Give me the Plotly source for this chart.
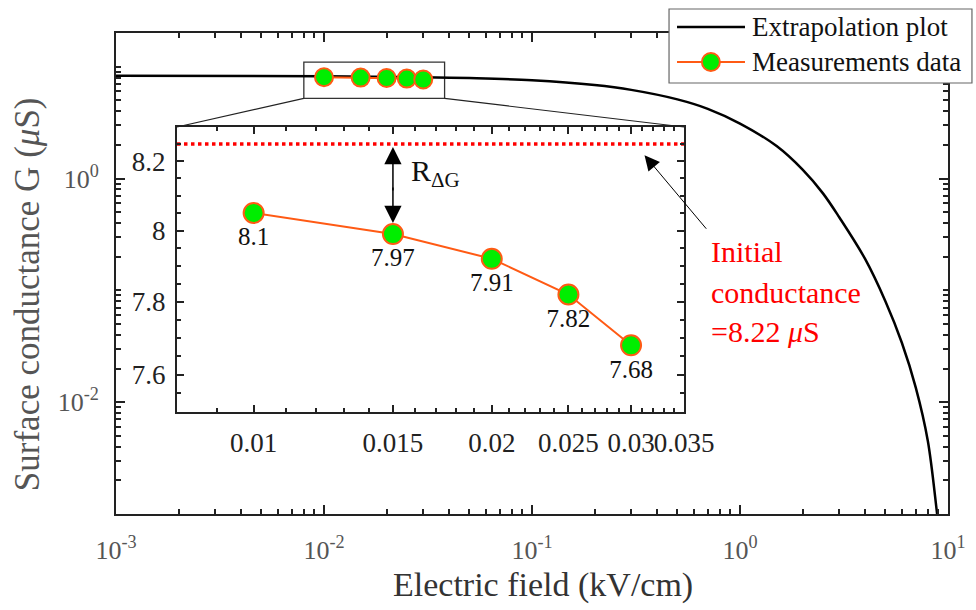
import math
import plotly.graph_objects as go

# ---------------- data ----------------
field_extrap = [0.001, 0.01, 0.03, 0.05, 0.1, 0.2, 0.3, 0.5, 0.7, 1.0, 1.5, 2.0,
                2.5, 3.0, 4.0, 5.0, 6.0, 7.0, 8.0, 9.0, 9.5]
G_extrap = [8.3, 8.22, 8.05, 7.9, 7.55, 6.85, 6.2, 5.1, 4.2, 3.1, 1.95, 1.2,
            0.74, 0.45, 0.19, 0.080, 0.034, 0.0135, 0.0045, 0.0008, 0.0004]

field_meas = [0.01, 0.015, 0.02, 0.025, 0.03]
G_meas = [8.05, 7.99, 7.92, 7.82, 7.68]
G_labels = ["8.1", "7.97", "7.91", "7.82", "7.68"]
G_initial = 8.25

main_xticks = [1e-3, 1e-2, 1e-1, 1e0, 1e1]
main_xticktext = ["10<sup>-3</sup>", "10<sup>-2</sup>", "10<sup>-1</sup>", "10<sup>0</sup>", "10<sup>1</sup>"]
main_yticks = [1e-2, 1e0]
main_yticktext = ["10<sup>-2</sup>", "10<sup>0</sup>"]
inset_xticks = [0.01, 0.015, 0.02, 0.025, 0.03, 0.035]
inset_xticktext = ["0.01", "0.015", "0.02", "0.025", "0.03", "0.035"]
inset_yticks = [7.6, 7.8, 8.0, 8.2]
inset_yticktext = ["7.6", "7.8", "8", "8.2"]

# ---------------- style ----------------
FONT = "Liberation Serif"
ORANGE = "#ff5a14"
GREEN = "#00ee00"

main_xrange = [-3, 1]
main_yrange = [-3, math.log10(20)]
inset_xrange = [math.log10(0.008), math.log10(0.035)]
inset_yrange = [math.log10(7.5), math.log10(8.3)]
inset_dx = [0.0733, 0.6827]
inset_dy = [0.2121, 0.8046]

log_minor = [m * 10 ** e for e in range(-3, 2) for m in range(2, 10)]
y_minor = sorted(log_minor + [1e-3, 1e-1, 1e1])
inset_xminor = [round(0.008 + 0.001 * i, 3) for i in range(28)]
inset_yminor = [round(7.5 + 0.05 * i, 2) for i in range(17)]

fig = go.Figure()

# main plot traces
fig.add_trace(go.Scatter(x=field_extrap, y=G_extrap, mode="lines", name="Extrapolation plot",
                         line=dict(color="black", width=2.5, shape="spline"),
                         xaxis="x", yaxis="y", showlegend=False))
fig.add_trace(go.Scatter(x=field_meas, y=G_meas, mode="lines+markers", name="Measurements data",
                         line=dict(color=ORANGE, width=2),
                         marker=dict(size=18, color=GREEN, line=dict(color=ORANGE, width=2)),
                         xaxis="x", yaxis="y", showlegend=False))

# inset traces
fig.add_trace(go.Scatter(x=[0.008, 0.035], y=[G_initial, G_initial], mode="lines",
                         line=dict(color="#ff0000", width=3.5, dash="dot"),
                         xaxis="x2", yaxis="y2", showlegend=False))
fig.add_trace(go.Scatter(x=field_meas, y=G_meas, mode="lines+markers+text",
                         text=G_labels, textposition="bottom center",
                         textfont=dict(family=FONT, size=25, color="#111"),
                         line=dict(color=ORANGE, width=2),
                         marker=dict(size=20, color=GREEN, line=dict(color=ORANGE, width=2)),
                         xaxis="x2", yaxis="y2", showlegend=False, cliponaxis=False))

axis_common = dict(showline=True, linecolor="#222", linewidth=2, mirror="ticks",
                   ticks="inside", tickcolor="#222", tickwidth=1.5, showgrid=False,
                   zeroline=False, automargin=False, tickangle=0)

fig.update_layout(
    width=976, height=610,
    margin=dict(l=116, r=28, t=33, b=96),
    paper_bgcolor="white", plot_bgcolor="white",
    font=dict(family=FONT, color="#222"),
    xaxis=dict(type="log", range=main_xrange, domain=[0, 1],
               tickmode="array", tickvals=main_xticks, ticktext=main_xticktext,
               ticklen=9, ticklabelstandoff=12,
               tickfont=dict(size=26, color="#555"),
               minor=dict(tickvals=log_minor, ticks="inside", ticklen=5, tickcolor="#222"),
               **axis_common),
    yaxis=dict(type="log", range=main_yrange, domain=[0, 1],
               tickmode="array", tickvals=main_yticks, ticktext=main_yticktext,
               ticklen=9, ticklabelstandoff=10,
               tickfont=dict(size=26, color="#555"),
               minor=dict(tickvals=y_minor, ticks="inside", ticklen=5, tickcolor="#222"),
               **axis_common),
    xaxis2=dict(type="log", range=inset_xrange, domain=inset_dx, anchor="y2",
                tickmode="array", tickvals=inset_xticks, ticktext=inset_xticktext,
                ticklen=7, ticklabelstandoff=6,
                tickfont=dict(size=27, color="#222"),
                minor=dict(tickvals=inset_xminor, ticks="inside", ticklen=4, tickcolor="#222"),
                **axis_common),
    yaxis2=dict(type="log", range=inset_yrange, domain=inset_dy, anchor="x2",
                tickmode="array", tickvals=inset_yticks, ticktext=inset_yticktext,
                ticklen=7, ticklabelstandoff=4,
                tickfont=dict(size=27, color="#222"),
                minor=dict(tickvals=inset_yminor, ticks="inside", ticklen=4, tickcolor="#222"),
                **axis_common),
)


def to_paper_x(v):
    return (math.log10(v) - main_xrange[0]) / (main_xrange[1] - main_xrange[0])


def to_paper_y(v):
    return (math.log10(v) - main_yrange[0]) / (main_yrange[1] - main_yrange[0])


# zoom box in main plot + connectors
box_x = [0.008, 0.038]
box_y = [5.2, 11.0]
fig.add_shape(type="rect", xref="x", yref="y", x0=box_x[0], x1=box_x[1], y0=box_y[0], y1=box_y[1],
              line=dict(color="#333", width=1.3), layer="below")
fig.add_shape(type="line", xref="paper", yref="paper",
              x0=to_paper_x(box_x[0]), y0=to_paper_y(box_y[0]), x1=inset_dx[0], y1=inset_dy[1],
              line=dict(color="#222", width=1.2))
fig.add_shape(type="line", xref="paper", yref="paper",
              x0=to_paper_x(box_x[1]), y0=to_paper_y(box_y[0]), x1=inset_dx[1], y1=inset_dy[1],
              line=dict(color="#222", width=1.2))

# double-headed arrow R_dG
fig.add_annotation(xref="x2", yref="y2", x=math.log10(field_meas[1]), y=math.log10(G_initial),
                   text="", showarrow=True, ax=0, ay=48, arrowhead=2,
                   arrowsize=2.3, arrowwidth=1.5, arrowcolor="black", standoff=3)
fig.add_annotation(xref="x2", yref="y2", x=math.log10(field_meas[1]), y=math.log10(G_meas[1]),
                   text="", showarrow=True, ax=0, ay=-48, arrowhead=2,
                   arrowsize=2.3, arrowwidth=1.5, arrowcolor="black", standoff=11)
fig.add_annotation(xref="x2", yref="y2", x=math.log10(0.0157), y=math.log10(8.165),
                   text="R<sub>ΔG</sub>", showarrow=False, xanchor="left", yanchor="middle",
                   font=dict(family=FONT, size=30, color="#111"))

# arrow to initial conductance line
fig.add_annotation(xref="x2", yref="y2", x=math.log10(0.0312), y=math.log10(8.217),
                   text="", showarrow=True, ax=63, ay=75, arrowhead=2,
                   arrowsize=3, arrowwidth=1, arrowcolor="black")

red_lines = ["Initial", "conductance", "=8.22 <i>μ</i>S"]
red_y = [0.5447, 0.4595, 0.3784]
for t, yy in zip(red_lines, red_y):
    fig.add_annotation(xref="paper", yref="paper", x=0.7127, y=yy, text=t, showarrow=False,
                       xanchor="left", yanchor="middle",
                       font=dict(family=FONT, size=30, color="#ff0000"))

# axis titles
fig.add_annotation(xref="paper", yref="paper", x=0.513, y=-0.148, text="Electric field (kV/cm)",
                   showarrow=False, xanchor="center", yanchor="middle",
                   font=dict(family=FONT, size=34, color="#333"))
fig.add_annotation(xref="paper", yref="paper", x=-0.107, y=0.457,
                   text="Surface conductance G (<i>μ</i>S)", textangle=-90,
                   showarrow=False, xanchor="center", yanchor="middle",
                   font=dict(family=FONT, size=35, color="#555"))

# legend (drawn box with samples)
leg_x0, leg_x1, leg_y0, leg_y1 = 0.6647, 1.0288, 0.896, 1.0499
fig.add_shape(type="rect", xref="paper", yref="paper", x0=leg_x0, x1=leg_x1, y0=leg_y0, y1=leg_y1,
              line=dict(color="#666", width=1.2), fillcolor="white", layer="above")
leg_rows = [(1.0125, "Extrapolation plot", "black", False), (0.9397, "Measurements data", ORANGE, True)]
for yy, label, col, mk in leg_rows:
    fig.add_shape(type="line", xref="paper", yref="paper", x0=0.6743, x1=0.756, y0=yy, y1=yy,
                  line=dict(color=col, width=2.5 if not mk else 2))
    if mk:
        fig.add_shape(type="circle", xref="paper", yref="paper", xsizemode="pixel", ysizemode="pixel",
                      xanchor=0.715, yanchor=yy, x0=-9, x1=9, y0=-9, y1=9,
                      fillcolor=GREEN, line=dict(color=ORANGE, width=2))
    fig.add_annotation(xref="paper", yref="paper", x=0.762, y=yy, text=label, showarrow=False,
                       xanchor="left", yanchor="middle", font=dict(family=FONT, size=27, color="#111"))

fig.write_html("out.html")
